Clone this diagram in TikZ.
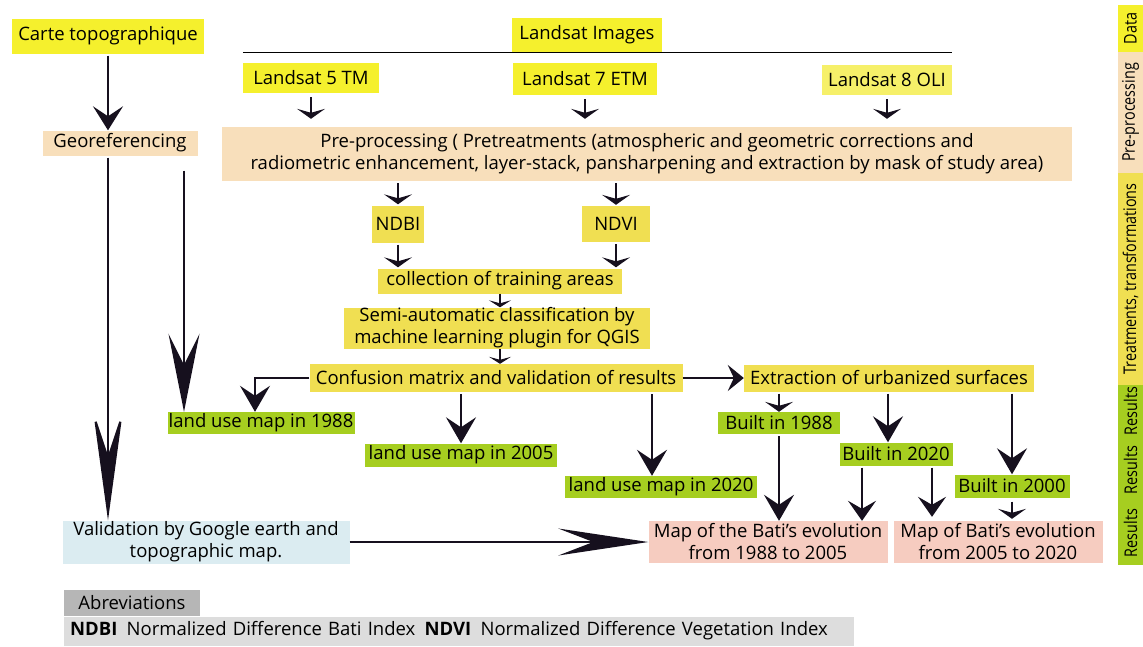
\documentclass[tikz,border=0pt]{standalone}
\usepackage{fontspec}
\setmainfont{Open Sans}
\newfontfamily\narrowfont[FakeStretch=0.82]{Open Sans}
\usepackage{tikz}
\usetikzlibrary{calc,arrows.meta}
\definecolor{datyellow}{RGB}{245,240,45}
\definecolor{oliyellow}{RGB}{246,240,105}
\definecolor{prepeach}{RGB}{248,223,187}
\definecolor{trtyellow}{RGB}{240,223,82}
\definecolor{resgreen}{RGB}{166,206,32}
\definecolor{mappink}{RGB}{246,204,192}
\definecolor{valblue}{RGB}{219,236,241}
\definecolor{abbrdark}{RGB}{182,182,182}
\definecolor{abbrlight}{RGB}{221,221,221}
\definecolor{arrowcol}{RGB}{22,16,30}
\tikzset{
  box/.style={
    rectangle,
    inner sep=0pt,
    align=center,
    font=\fontsize{18.5}{22}\selectfont},
  datbox/.style={box, fill=datyellow},
  prebox/.style={box, fill=prepeach},
  trtbox/.style={box, fill=trtyellow},
  resbox/.style={box, fill=resgreen},
  mapbox/.style={box, fill=mappink},
  valbox/.style={box, fill=valblue},
  sidebox/.style={
    rotate=90,
    minimum height=25,
    inner sep=0pt,
    font=\narrowfont\fontsize{17.5}{20}\selectfont},
  flow/.style={draw=arrowcol, line width=2.2pt},
  shortarrow/.style={flow, -{Stealth[length=10pt,width=28pt,inset=4pt]}},
  midarrow/.style={flow, -{Stealth[length=26pt,width=30pt,inset=10pt]}},
  longarrow/.style={flow, -{Stealth[length=110pt,width=30pt,inset=45pt]}},
}

\begin{document}
\begin{tikzpicture}[x=1pt, y=-1pt]
  \useasboundingbox (0,0) rectangle (1143,646);

  % data
  \node[datbox, minimum width=192, minimum height=35] (carte) at (108,36) {Carte topographique};
  \node[datbox, minimum width=150, minimum height=34] (limages) at (587,35) {Landsat Images};
  \node[datbox, minimum width=136, minimum height=30] (ls5) at (311,78) {Landsat 5 TM};
  \node[datbox, minimum width=144, minimum height=32] (ls7) at (585,79) {Landsat 7 ETM};
  \node[box, fill=oliyellow, minimum width=130, minimum height=30] (ls8) at (887,80) {Landsat 8 OLI};
  \draw[line width=1pt] (ls5.west |- limages.south) -- (ls8.east |- limages.south);

  % pre-processing
  \node[prebox, minimum width=155, minimum height=25] (georef) at (120,143) {Georeferencing};
  \node[prebox, minimum width=850, minimum height=54] (pre) at (647,154)
    {Pre-processing ( Pretreatments (atmospheric and geometric corrections and\\
     radiometric enhancement, layer-stack, pansharpening and extraction by mask of study area)};

  % treatments
  \node[trtbox, minimum width=52, minimum height=37] (ndbi) at (398,224) {NDBI};
  \node[trtbox, minimum width=68, minimum height=36] (ndvi) at (616,224) {NDVI};
  \node[trtbox, minimum width=244, minimum height=25] (coll) at (500,281) {collection of training areas};
  \node[trtbox, minimum width=306, minimum height=41] (semi) at (497,328)
    {Semi-automatic classification by\\ machine learning plugin for QGIS};
  \node[trtbox, minimum width=373, minimum height=28] (conf) at (496,378) {Confusion matrix and validation of results};
  \node[trtbox, minimum width=290, minimum height=27] (extr) at (889,378) {Extraction of urbanized surfaces};

  % results
  \node[resbox, minimum width=187, minimum height=22] (lum88) at (261,423) {land use map in 1988};
  \node[resbox, minimum width=192, minimum height=23] (lum05) at (461,455) {land use map in 2005};
  \node[resbox, minimum width=192, minimum height=22] (lum20) at (661,487) {land use map in 2020};
  \node[resbox, minimum width=122, minimum height=22] (b88) at (779,423) {Built in 1988};
  \node[resbox, minimum width=113, minimum height=23] (b20) at (896,454) {Built in 2020};
  \node[resbox, minimum width=115, minimum height=23] (b00) at (1012,486) {Built in 2000};
  \node[mapbox, minimum width=239, minimum height=42] (map1) at (768,542)
    {Map of the Bati’s evolution\\ from 1988 to 2005};
  \node[mapbox, minimum width=209, minimum height=42] (map2) at (998,542)
    {Map of Bati's evolution\\ from 2005 to 2020};
  \node[valbox, minimum width=287, minimum height=43] (valid) at (206,542)
    {Validation by Google earth and\\ topographic map.};

  % abbreviations
  \node[box, fill=abbrdark, minimum width=136, minimum height=26] (abbrtitle) at (132,603) {Abreviations};
  \node[box, fill=abbrlight, anchor=west, text width=790, minimum height=29, align=left] (abbrrow) at (64,631)
    {\hspace*{6pt}\textbf{NDBI}\enspace Normalized Difference Bati Index\enspace
     \textbf{NDVI}\enspace Normalized Difference Vegetation Index};

  % side bar
  \node[sidebox, fill=datyellow, minimum width=47] (sdata) at (1130.5,28.5) {Data};
  \node[sidebox, fill=prepeach, minimum width=121] (spre) at (1130.5,112.5) {Pre-processing};
  \node[sidebox, fill=trtyellow, minimum width=212] (strt) at (1130.5,279) {Treatments, transformations};
  \node[sidebox, fill=resgreen, minimum width=180] (sres) at (1130.5,475) {};
  \node[sidebox] (sres1) at (1130.5,411) {Results};
  \node[sidebox] (sres2) at (1130.5,470) {Results};
  \node[sidebox] (sres3) at (1130.5,533) {Results};

  % connectors
  \draw[flow, -{Stealth[length=24pt,width=30pt,inset=10pt]}, shorten <=2pt]
    (carte.south) -- (carte.south |- georef.north);
  \draw[longarrow, shorten <=2pt] (georef.south -| carte.south) -- (valid.north -| carte.south);
  \coordinate (gtap) at ($(georef.south)+(64,15)$);
  \draw[flow, -{Stealth[length=78pt,width=31pt,inset=31pt]}] (gtap) -- (gtap |- lum88.north);

  \foreach \ls in {ls5,ls7,ls8}
    \draw[shortarrow, shorten <=4pt, shorten >=8pt] (\ls.south) -- (\ls.south |- pre.north);

  \draw[shortarrow, shorten <=2pt, shorten >=1pt] (pre.south -| ndbi) -- (ndbi.north);
  \draw[shortarrow, shorten <=2pt, shorten >=1pt] (pre.south -| ndvi) -- (ndvi.north);
  \draw[shortarrow, shorten <=2pt, shorten >=1pt] (ndbi.south) -- (ndbi.south |- coll.north);
  \draw[shortarrow, shorten <=2pt, shorten >=1pt] (ndvi.south) -- (ndvi.south |- coll.north);
  \draw[flow, -{Stealth[length=7pt,width=22pt,inset=3pt]}, line width=1.6pt]
    (coll.south) -- (coll.south |- semi.north);
  \draw[flow, -{Stealth[length=7pt,width=22pt,inset=3pt]}, line width=1.6pt]
    (semi.south -| coll.south) -- (coll.south |- conf.north);

  \draw[midarrow] (conf.west) -| ([xshift=-6pt]lum88.north);
  \draw[midarrow, shorten <=2pt] (conf.south -| lum05.north) -- (lum05.north);
  \draw[midarrow, shorten <=2pt] ([xshift=-9pt]lum20.north |- conf.south) -- ([xshift=-9pt]lum20.north);
  \draw[flow, -{Stealth[length=16pt,width=26pt,inset=6pt]}] (conf.east) -- (extr.west);

  \draw[shortarrow, shorten <=2pt] (extr.south -| b88) -- (b88.north);
  \draw[midarrow, shorten <=2pt] ([xshift=-8pt]b20.north |- extr.south) -- ([xshift=-8pt]b20.north);
  \draw[midarrow, shorten <=2pt] (extr.south -| b00) -- (b00.north);

  \draw[midarrow, shorten <=2pt] (b88.south) -- (b88.south |- map1.north);
  \draw[flow, -{Stealth[length=20pt,width=28pt,inset=8pt]}, shorten <=2pt]
    ([xshift=-34pt]b20.south) -- ([xshift=-34pt]b20.south |- map1.north);
  \draw[flow, -{Stealth[length=20pt,width=28pt,inset=8pt]}, shorten <=2pt, shorten >=4pt]
    ([xshift=36pt]b20.south) -- ([xshift=36pt]b20.south |- map2.north);
  \draw[shortarrow, shorten <=4pt, shorten >=2pt] (b00.south) -- (b00.south |- map2.north);

  \draw[flow, -{Stealth[length=90pt,width=27pt,inset=35pt]}] (valid.east) -- (map1.west);
\end{tikzpicture}
\end{document}
